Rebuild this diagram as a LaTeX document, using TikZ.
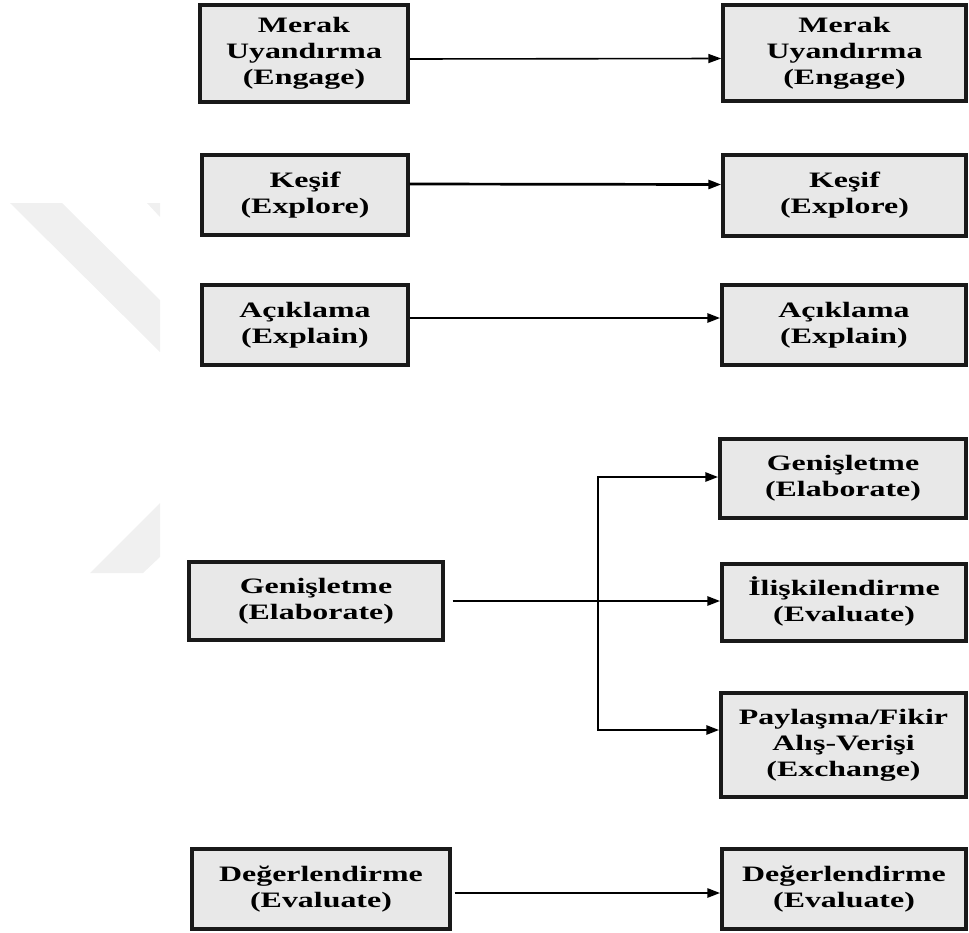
\documentclass[tikz,border=0pt]{standalone}
\usepackage{fontspec}
\usepackage{graphicx}
\setmainfont{Liberation Serif}
\usetikzlibrary{arrows.meta}
\definecolor{boxfill}{HTML}{E8E8E8}
\definecolor{wmark}{HTML}{F0F0F0}
% wide bold lettering used inside the boxes
\newcommand\stagelines[1]{\scalebox{1.45}[1]{\begin{tabular}{@{}c@{}}#1\end{tabular}}}
\begin{document}
\begin{tikzpicture}[x=1pt,y=-1pt,
  stage/.style={draw=black!90, line width=3.4pt, fill=boxfill,
    font=\bfseries\fontsize{22}{26}\selectfont, inner sep=0pt},
  flow/.style={line width=2.7pt, line join=miter, -{Triangle[length=13pt,width=9pt]}},
  thinflow/.style={flow, line width=1.6pt}]
\useasboundingbox (0,0) rectangle (969,932);

% faint background mark on the left
\fill[wmark] (10,203) -- (62,203) -- (160,300) -- (160,352) -- cycle;
\fill[wmark] (147,203) -- (160,203) -- (160,217) -- cycle;
\fill[wmark] (160,503) -- (160,557) -- (143,573) -- (90,573) -- cycle;

% left column
\node[stage, minimum width=208pt, minimum height=97pt] (e1) at (304,53.5) {\stagelines{Merak\\Uyandırma\\(Engage)}};
\node[stage, minimum width=206pt, minimum height=80pt] (x1) at (305,195) {\stagelines{Keşif\\(Explore)}};
\node[stage, minimum width=206pt, minimum height=80pt] (a1) at (305,325) {\stagelines{Açıklama\\(Explain)}};
\node[stage, minimum width=254pt, minimum height=78pt] (el1) at (316,601) {\stagelines{Genişletme\\(Elaborate)}};
\node[stage, minimum width=258pt, minimum height=80pt] (d1) at (321,889) {\stagelines{Değerlendirme\\(Evaluate)}};

% right column
\node[stage, minimum width=243pt, minimum height=96pt] (e2) at (844.5,53) {\stagelines{Merak\\Uyandırma\\(Engage)}};
\node[stage, minimum width=243pt, minimum height=81pt] (x2) at (844.5,195.5) {\stagelines{Keşif\\(Explore)}};
\node[stage, minimum width=244pt, minimum height=80pt] (a2) at (844,325) {\stagelines{Açıklama\\(Explain)}};
\node[stage, minimum width=246pt, minimum height=79pt] (el2) at (843,478.5) {\stagelines{Genişletme\\(Elaborate)}};
\node[stage, minimum width=244pt, minimum height=77pt] (ev) at (844,602.5) {\stagelines{İlişkilendirme\\(Evaluate)}};
\node[stage, minimum width=245pt, minimum height=104pt] (ex) at (843.5,745) {\stagelines{Paylaşma/Fikir\\Alış-Verişi\\(Exchange)}};
\node[stage, minimum width=244pt, minimum height=80pt] (d2) at (844,889) {\stagelines{Değerlendirme\\(Evaluate)}};

% connectors
\draw[thinflow] ([yshift=-5.5pt]e1.east) -- ([yshift=-5.5pt]e2.west);
\draw[flow] ([yshift=11pt]x1.east) -- ([yshift=11pt]x2.west);
\draw[flow] ([yshift=7pt]a1.east) -- ([yshift=7pt]a2.west);
\coordinate (sp) at (598,601);
\draw[flow] ([xshift=8pt]el1.east) -- (el1.east -| ev.west);
\draw[flow] (sp) |- ([yshift=1.5pt]el2.west);
\draw[flow] (sp) |- ([yshift=15pt]ex.west);
\draw[flow] ([xshift=3pt,yshift=-4pt]d1.east) -- ([yshift=-4pt]d2.west);
\end{tikzpicture}
\end{document}
